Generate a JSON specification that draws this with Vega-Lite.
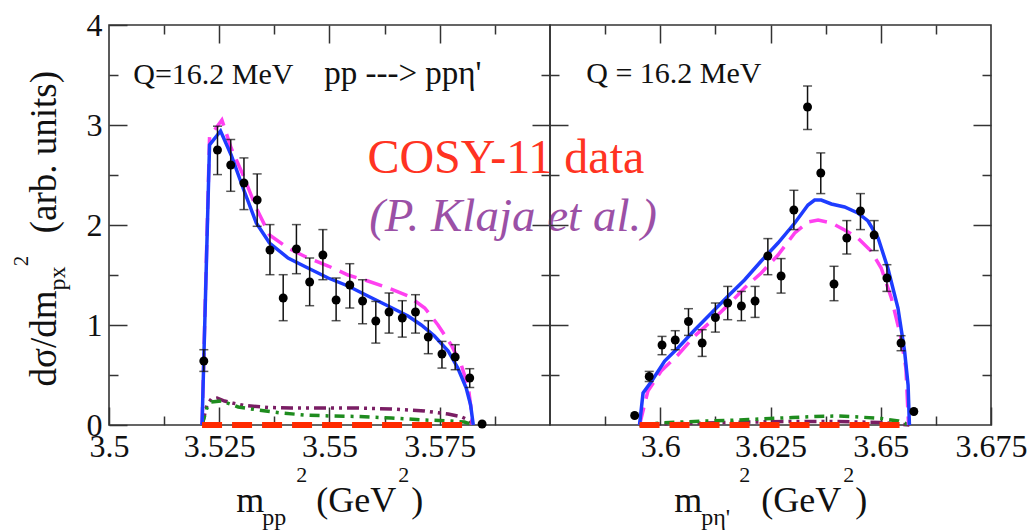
{
  "$schema": "https://vega.github.io/schema/vega-lite/v6.json",
  "background": "white",
  "padding": {"left": 10, "top": 8, "right": 0, "bottom": 0},
  "config": {
    "font": "Times New Roman, Liberation Serif, Tinos, DejaVu Serif, serif",
    "view": {"stroke": "#333", "strokeWidth": 1.6},
    "axis": {
      "domain": false,
      "grid": false,
      "tickColor": "#333",
      "tickWidth": 1.5,
      "labelFont": "Times New Roman, Liberation Serif, Tinos, DejaVu Serif, serif",
      "labelFontSize": 32,
      "labelColor": "#111",
      "labelFlush": false,
      "labelOverlap": false,
      "labelBound": false
    }
  },
  "datasets": {
    "ppPoints": [
      {"x": 3.5215, "y": 0.64, "lo": 0.536, "hi": 0.753},
      {"x": 3.5246, "y": 2.75, "lo": 2.504, "hi": 2.988},
      {"x": 3.5276, "y": 2.60, "lo": 2.337, "hi": 2.855},
      {"x": 3.5306, "y": 2.42, "lo": 2.154, "hi": 2.671},
      {"x": 3.5336, "y": 2.25, "lo": 1.987, "hi": 2.511},
      {"x": 3.5365, "y": 1.75, "lo": 1.503, "hi": 2.004},
      {"x": 3.5395, "y": 1.27, "lo": 1.043, "hi": 1.503},
      {"x": 3.5425, "y": 1.76, "lo": 1.513, "hi": 2.004},
      {"x": 3.5455, "y": 1.43, "lo": 1.193, "hi": 1.670},
      {"x": 3.5485, "y": 1.70, "lo": 1.453, "hi": 1.954},
      {"x": 3.5515, "y": 1.25, "lo": 1.043, "hi": 1.470},
      {"x": 3.5546, "y": 1.40, "lo": 1.170, "hi": 1.613},
      {"x": 3.5575, "y": 1.24, "lo": 1.013, "hi": 1.453},
      {"x": 3.5605, "y": 1.04, "lo": 0.819, "hi": 1.236},
      {"x": 3.5635, "y": 1.13, "lo": 0.919, "hi": 1.320},
      {"x": 3.5665, "y": 1.07, "lo": 0.879, "hi": 1.243},
      {"x": 3.5695, "y": 1.13, "lo": 0.919, "hi": 1.303},
      {"x": 3.5724, "y": 0.88, "lo": 0.713, "hi": 1.043},
      {"x": 3.5755, "y": 0.71, "lo": 0.569, "hi": 0.836},
      {"x": 3.5785, "y": 0.68, "lo": 0.553, "hi": 0.803},
      {"x": 3.5818, "y": 0.47, "lo": 0.375, "hi": 0.563},
      {"x": 3.5846, "y": 0.01}
    ],
    "pEtaPoints": [
      {"x": 3.5942, "y": 0.095},
      {"x": 3.5975, "y": 0.485, "lo": 0.435, "hi": 0.536},
      {"x": 3.6004, "y": 0.80, "lo": 0.703, "hi": 0.886},
      {"x": 3.6034, "y": 0.85, "lo": 0.753, "hi": 0.943},
      {"x": 3.6064, "y": 1.035, "lo": 0.896, "hi": 1.163},
      {"x": 3.6095, "y": 0.82, "lo": 0.686, "hi": 0.953},
      {"x": 3.6125, "y": 1.075, "lo": 0.929, "hi": 1.220},
      {"x": 3.6153, "y": 1.22, "lo": 1.053, "hi": 1.386},
      {"x": 3.6184, "y": 1.19, "lo": 1.043, "hi": 1.336},
      {"x": 3.6215, "y": 1.24, "lo": 1.076, "hi": 1.386},
      {"x": 3.6244, "y": 1.69, "lo": 1.503, "hi": 1.864},
      {"x": 3.6274, "y": 1.49, "lo": 1.319, "hi": 1.664},
      {"x": 3.6303, "y": 2.15, "lo": 1.954, "hi": 2.347},
      {"x": 3.6334, "y": 3.18, "lo": 2.955, "hi": 3.39},
      {"x": 3.6364, "y": 2.52, "lo": 2.314, "hi": 2.721},
      {"x": 3.6394, "y": 1.41, "lo": 1.243, "hi": 1.587},
      {"x": 3.6423, "y": 1.87, "lo": 1.710, "hi": 2.044},
      {"x": 3.6454, "y": 2.14, "lo": 1.954, "hi": 2.314},
      {"x": 3.6485, "y": 1.90, "lo": 1.744, "hi": 2.044},
      {"x": 3.6514, "y": 1.47, "lo": 1.336, "hi": 1.603},
      {"x": 3.6546, "y": 0.82, "lo": 0.743, "hi": 0.893},
      {"x": 3.6575, "y": 0.135}
    ],
    "ppCurves": [
      {"model": "solid", "x": 3.5211, "y": 0},
      {"model": "solid", "x": 3.5228, "y": 2.80},
      {"model": "solid", "x": 3.5253, "y": 2.94},
      {"model": "solid", "x": 3.5277, "y": 2.70},
      {"model": "solid", "x": 3.5304, "y": 2.37},
      {"model": "solid", "x": 3.5334, "y": 2.02},
      {"model": "solid", "x": 3.5364, "y": 1.82},
      {"model": "solid", "x": 3.5406, "y": 1.67},
      {"model": "solid", "x": 3.5451, "y": 1.57},
      {"model": "solid", "x": 3.5497, "y": 1.47},
      {"model": "solid", "x": 3.5542, "y": 1.39},
      {"model": "solid", "x": 3.5587, "y": 1.29},
      {"model": "solid", "x": 3.5633, "y": 1.19},
      {"model": "solid", "x": 3.5678, "y": 1.09},
      {"model": "solid", "x": 3.5708, "y": 1.00},
      {"model": "solid", "x": 3.5738, "y": 0.89},
      {"model": "solid", "x": 3.5769, "y": 0.74},
      {"model": "solid", "x": 3.5791, "y": 0.57},
      {"model": "solid", "x": 3.5810, "y": 0.37},
      {"model": "solid", "x": 3.5820, "y": 0.20},
      {"model": "solid", "x": 3.5826, "y": 0},
      {"model": "dashed", "x": 3.5211, "y": 0},
      {"model": "dashed", "x": 3.5228, "y": 2.88},
      {"model": "dashed", "x": 3.5256, "y": 3.05},
      {"model": "dashed", "x": 3.5277, "y": 2.77},
      {"model": "dashed", "x": 3.5304, "y": 2.50},
      {"model": "dashed", "x": 3.5334, "y": 2.17},
      {"model": "dashed", "x": 3.5364, "y": 1.90},
      {"model": "dashed", "x": 3.5406, "y": 1.77},
      {"model": "dashed", "x": 3.5451, "y": 1.67},
      {"model": "dashed", "x": 3.5497, "y": 1.59},
      {"model": "dashed", "x": 3.5542, "y": 1.50},
      {"model": "dashed", "x": 3.5587, "y": 1.44},
      {"model": "dashed", "x": 3.5633, "y": 1.37},
      {"model": "dashed", "x": 3.5678, "y": 1.29},
      {"model": "dashed", "x": 3.5716, "y": 1.17},
      {"model": "dashed", "x": 3.5746, "y": 1.00},
      {"model": "dashed", "x": 3.5776, "y": 0.80},
      {"model": "dashed", "x": 3.5799, "y": 0.60},
      {"model": "dashed", "x": 3.5815, "y": 0.37},
      {"model": "dashed", "x": 3.5822, "y": 0.13},
      {"model": "dashed", "x": 3.5824, "y": 0},
      {"model": "dashdotdot", "x": 3.5211, "y": 0},
      {"model": "dashdotdot", "x": 3.5222, "y": 0.20},
      {"model": "dashdotdot", "x": 3.5232, "y": 0.26},
      {"model": "dashdotdot", "x": 3.5245, "y": 0.27},
      {"model": "dashdotdot", "x": 3.5262, "y": 0.24},
      {"model": "dashdotdot", "x": 3.5280, "y": 0.22},
      {"model": "dashdotdot", "x": 3.5307, "y": 0.195},
      {"model": "dashdotdot", "x": 3.5361, "y": 0.175},
      {"model": "dashdotdot", "x": 3.5413, "y": 0.17},
      {"model": "dashdotdot", "x": 3.5489, "y": 0.17},
      {"model": "dashdotdot", "x": 3.5564, "y": 0.17},
      {"model": "dashdotdot", "x": 3.5640, "y": 0.16},
      {"model": "dashdotdot", "x": 3.5716, "y": 0.14},
      {"model": "dashdotdot", "x": 3.5769, "y": 0.11},
      {"model": "dashdotdot", "x": 3.5800, "y": 0.08},
      {"model": "dashdotdot", "x": 3.5815, "y": 0.05},
      {"model": "dashdotdot", "x": 3.5826, "y": 0},
      {"model": "dashdot", "x": 3.5211, "y": 0},
      {"model": "dashdot", "x": 3.5222, "y": 0.17},
      {"model": "dashdot", "x": 3.5232, "y": 0.23},
      {"model": "dashdot", "x": 3.5255, "y": 0.24},
      {"model": "dashdot", "x": 3.5275, "y": 0.21},
      {"model": "dashdot", "x": 3.5293, "y": 0.18},
      {"model": "dashdot", "x": 3.5338, "y": 0.15},
      {"model": "dashdot", "x": 3.5391, "y": 0.12},
      {"model": "dashdot", "x": 3.5444, "y": 0.10},
      {"model": "dashdot", "x": 3.5504, "y": 0.09},
      {"model": "dashdot", "x": 3.5565, "y": 0.085},
      {"model": "dashdot", "x": 3.5640, "y": 0.07},
      {"model": "dashdot", "x": 3.5716, "y": 0.05},
      {"model": "dashdot", "x": 3.5776, "y": 0.04},
      {"model": "dashdot", "x": 3.5806, "y": 0.03},
      {"model": "dashdot", "x": 3.5826, "y": 0},
      {"model": "baseline", "x": 3.5211, "y": 0},
      {"model": "baseline", "x": 3.5812, "y": 0}
    ],
    "pEtaCurves": [
      {"model": "solid", "x": 3.5953, "y": 0},
      {"model": "solid", "x": 3.5961, "y": 0.32},
      {"model": "solid", "x": 3.5980, "y": 0.435},
      {"model": "solid", "x": 3.6010, "y": 0.64},
      {"model": "solid", "x": 3.6040, "y": 0.77},
      {"model": "solid", "x": 3.6078, "y": 0.95},
      {"model": "solid", "x": 3.6116, "y": 1.12},
      {"model": "solid", "x": 3.6154, "y": 1.29},
      {"model": "solid", "x": 3.6191, "y": 1.45},
      {"model": "solid", "x": 3.6229, "y": 1.64},
      {"model": "solid", "x": 3.6267, "y": 1.82},
      {"model": "solid", "x": 3.6305, "y": 2.02},
      {"model": "solid", "x": 3.6335, "y": 2.20},
      {"model": "solid", "x": 3.6350, "y": 2.25},
      {"model": "solid", "x": 3.6365, "y": 2.25},
      {"model": "solid", "x": 3.6388, "y": 2.21},
      {"model": "solid", "x": 3.6418, "y": 2.18},
      {"model": "solid", "x": 3.6448, "y": 2.12},
      {"model": "solid", "x": 3.6471, "y": 2.04},
      {"model": "solid", "x": 3.6494, "y": 1.87},
      {"model": "solid", "x": 3.6516, "y": 1.57},
      {"model": "solid", "x": 3.6539, "y": 1.17},
      {"model": "solid", "x": 3.6554, "y": 0.74},
      {"model": "solid", "x": 3.6562, "y": 0.40},
      {"model": "solid", "x": 3.6565, "y": 0},
      {"model": "dashed", "x": 3.5953, "y": 0},
      {"model": "dashed", "x": 3.5972, "y": 0.34},
      {"model": "dashed", "x": 3.6002, "y": 0.54},
      {"model": "dashed", "x": 3.6040, "y": 0.70},
      {"model": "dashed", "x": 3.6078, "y": 0.89},
      {"model": "dashed", "x": 3.6116, "y": 1.04},
      {"model": "dashed", "x": 3.6154, "y": 1.20},
      {"model": "dashed", "x": 3.6191, "y": 1.37},
      {"model": "dashed", "x": 3.6229, "y": 1.52},
      {"model": "dashed", "x": 3.6267, "y": 1.70},
      {"model": "dashed", "x": 3.6305, "y": 1.92},
      {"model": "dashed", "x": 3.6335, "y": 2.03},
      {"model": "dashed", "x": 3.6358, "y": 2.05},
      {"model": "dashed", "x": 3.6388, "y": 2.02},
      {"model": "dashed", "x": 3.6418, "y": 1.95},
      {"model": "dashed", "x": 3.6448, "y": 1.87},
      {"model": "dashed", "x": 3.6478, "y": 1.74},
      {"model": "dashed", "x": 3.6501, "y": 1.57},
      {"model": "dashed", "x": 3.6524, "y": 1.27},
      {"model": "dashed", "x": 3.6546, "y": 0.87},
      {"model": "dashed", "x": 3.6557, "y": 0.57},
      {"model": "dashed", "x": 3.6563, "y": 0},
      {"model": "dashdot", "x": 3.5953, "y": 0},
      {"model": "dashdot", "x": 3.6000, "y": 0.02},
      {"model": "dashdot", "x": 3.6050, "y": 0.03},
      {"model": "dashdot", "x": 3.6100, "y": 0.04},
      {"model": "dashdot", "x": 3.6150, "y": 0.045},
      {"model": "dashdot", "x": 3.6200, "y": 0.055},
      {"model": "dashdot", "x": 3.6250, "y": 0.065},
      {"model": "dashdot", "x": 3.6300, "y": 0.075},
      {"model": "dashdot", "x": 3.6350, "y": 0.085},
      {"model": "dashdot", "x": 3.6400, "y": 0.09},
      {"model": "dashdot", "x": 3.6450, "y": 0.08},
      {"model": "dashdot", "x": 3.6500, "y": 0.065},
      {"model": "dashdot", "x": 3.6540, "y": 0.04},
      {"model": "dashdot", "x": 3.6565, "y": 0},
      {"model": "dashdotdot", "x": 3.5953, "y": 0},
      {"model": "dashdotdot", "x": 3.6000, "y": 0.01},
      {"model": "dashdotdot", "x": 3.6100, "y": 0.02},
      {"model": "dashdotdot", "x": 3.6200, "y": 0.03},
      {"model": "dashdotdot", "x": 3.6300, "y": 0.035},
      {"model": "dashdotdot", "x": 3.6400, "y": 0.035},
      {"model": "dashdotdot", "x": 3.6500, "y": 0.025},
      {"model": "dashdotdot", "x": 3.6565, "y": 0},
      {"model": "baseline", "x": 3.5953, "y": 0},
      {"model": "baseline", "x": 3.6550, "y": 0}
    ]
  },
  "spacing": 0,
  "bounds": "flush",
  "hconcat": [
    {
      "width": 441,
      "height": 400,
      "resolve": {"axis": {"x": "independent", "y": "independent"}},
      "layer": [
        {
          "data": {"name": "ppCurves"},
          "transform": [{"filter": "datum.model == 'dashdotdot'"}],
          "mark": {"type": "line", "color": "#7a1e64", "strokeWidth": 3.5, "strokeDash": [12, 5, 3, 5, 3, 5]},
          "encoding": {
            "x": {"field": "x", "type": "quantitative", "scale": {"domain": [3.5, 3.6], "nice": false, "zero": false}, "axis": null},
            "y": {"field": "y", "type": "quantitative", "scale": {"domain": [0, 4], "nice": false, "zero": false}, "axis": null}
          }
        },
        {
          "data": {"name": "ppCurves"},
          "transform": [{"filter": "datum.model == 'dashdot'"}],
          "mark": {"type": "line", "color": "#1e8c1e", "strokeWidth": 3.5, "strokeDash": [10, 6, 3, 6]},
          "encoding": {
            "x": {"field": "x", "type": "quantitative", "scale": {"domain": [3.5, 3.6], "nice": false, "zero": false}, "axis": null},
            "y": {"field": "y", "type": "quantitative", "scale": {"domain": [0, 4], "nice": false, "zero": false}, "axis": null}
          }
        },
        {
          "data": {"name": "ppCurves"},
          "transform": [{"filter": "datum.model == 'dashed'"}],
          "mark": {"type": "line", "color": "#ff40f0", "strokeWidth": 3.5, "strokeDash": [18, 9]},
          "encoding": {
            "x": {"field": "x", "type": "quantitative", "scale": {"domain": [3.5, 3.6], "nice": false, "zero": false}, "axis": null},
            "y": {"field": "y", "type": "quantitative", "scale": {"domain": [0, 4], "nice": false, "zero": false}, "axis": null}
          }
        },
        {
          "data": {"name": "ppCurves"},
          "transform": [{"filter": "datum.model == 'solid'"}],
          "mark": {"type": "line", "color": "#1e3cff", "strokeWidth": 3.5},
          "encoding": {
            "x": {"field": "x", "type": "quantitative", "scale": {"domain": [3.5, 3.6], "nice": false, "zero": false}, "axis": null},
            "y": {"field": "y", "type": "quantitative", "scale": {"domain": [0, 4], "nice": false, "zero": false}, "axis": null}
          }
        },
        {
          "data": {"name": "ppCurves"},
          "transform": [{"filter": "datum.model == 'baseline'"}],
          "mark": {"type": "line", "color": "#ff2a00", "strokeWidth": 6, "strokeDash": [20, 10]},
          "encoding": {
            "x": {"field": "x", "type": "quantitative", "scale": {"domain": [3.5, 3.6], "nice": false, "zero": false}, "axis": null},
            "y": {"field": "y", "type": "quantitative", "scale": {"domain": [0, 4], "nice": false, "zero": false}, "axis": null}
          }
        },
        {
          "data": {"name": "ppPoints"},
          "mark": {"type": "rule", "color": "#111", "strokeWidth": 1.5},
          "encoding": {
            "x": {
              "field": "x", "type": "quantitative",
              "scale": {"domain": [3.5, 3.6], "nice": false, "zero": false},
              "axis": {
                "orient": "bottom", "title": null, "format": ".4~g",
                "values": [3.5, 3.5125, 3.525, 3.5375, 3.55, 3.5625, 3.575, 3.5875],
                "labelExpr": "round(datum.value*80) % 2 == 0 ? datum.label : ''",
                "tickSize": {"condition": {"test": "round(datum.value*80) % 2 == 0", "value": -18}, "value": -9},
                "labelPadding": 24
              }
            },
            "y": {
              "field": "lo", "type": "quantitative",
              "scale": {"domain": [0, 4], "nice": false, "zero": false},
              "axis": {
                "orient": "left", "title": null, "format": ".2~g",
                "values": [0, 0.5, 1, 1.5, 2, 2.5, 3, 3.5, 4],
                "labelExpr": "datum.value % 1 == 0 ? datum.label : ''",
                "tickSize": {"condition": {"test": "datum.value % 1 == 0", "value": -18}, "value": -9},
                "labelPadding": 25
              }
            },
            "y2": {"field": "hi"}
          }
        },
        {
          "data": {"name": "ppPoints"},
          "mark": {"type": "tick", "orient": "horizontal", "color": "#111", "size": 9, "thickness": 1.5},
          "encoding": {
            "x": {"field": "x", "type": "quantitative", "scale": {"domain": [3.5, 3.6], "nice": false, "zero": false}, "axis": null},
            "y": {"field": "lo", "type": "quantitative", "scale": {"domain": [0, 4], "nice": false, "zero": false}, "axis": null}
          }
        },
        {
          "data": {"name": "ppPoints"},
          "mark": {"type": "tick", "orient": "horizontal", "color": "#111", "size": 9, "thickness": 1.5},
          "encoding": {
            "x": {"field": "x", "type": "quantitative", "scale": {"domain": [3.5, 3.6], "nice": false, "zero": false}, "axis": null},
            "y": {"field": "hi", "type": "quantitative", "scale": {"domain": [0, 4], "nice": false, "zero": false}, "axis": null}
          }
        },
        {
          "data": {"name": "ppPoints"},
          "mark": {"type": "circle", "color": "#000", "opacity": 1, "size": 80},
          "encoding": {
            "x": {
              "field": "x", "type": "quantitative",
              "scale": {"domain": [3.5, 3.6], "nice": false, "zero": false},
              "axis": {
                "orient": "top", "title": null, "labels": false,
                "values": [3.5125, 3.525, 3.5375, 3.55, 3.5625, 3.575, 3.5875],
                "tickSize": {"condition": {"test": "round(datum.value*80) % 2 == 0", "value": -18}, "value": -9}
              }
            },
            "y": {
              "field": "y", "type": "quantitative",
              "scale": {"domain": [0, 4], "nice": false, "zero": false},
              "axis": {
                "orient": "right", "title": null, "labels": false,
                "values": [0.5, 1, 1.5, 2, 2.5, 3, 3.5],
                "tickSize": {"condition": {"test": "datum.value % 1 == 0", "value": -18}, "value": -9}
              }
            }
          }
        },
        {
          "data": {"values": [
            {"label": "Q=16.2 MeV", "x": 3.5055, "y": 3.408}
          ]},
          "mark": {"type": "text", "font": "Times New Roman, Liberation Serif, Tinos, DejaVu Serif, serif", "color": "#111", "align": "left", "baseline": "alphabetic", "fontSize": 30},
          "encoding": {
            "x": {"field": "x", "type": "quantitative", "scale": {"domain": [3.5, 3.6], "nice": false, "zero": false}, "axis": null},
            "y": {"field": "y", "type": "quantitative", "scale": {"domain": [0, 4], "nice": false, "zero": false}, "axis": null},
            "text": {"field": "label"}
          }
        },
        {
          "data": {"values": [
            {"label": "pp ---> ppη'", "x": 3.5488, "y": 3.408}
          ]},
          "mark": {"type": "text", "font": "Times New Roman, Liberation Serif, Tinos, DejaVu Serif, serif", "color": "#111", "align": "left", "baseline": "alphabetic", "fontSize": 33},
          "encoding": {
            "x": {"field": "x", "type": "quantitative", "scale": {"domain": [3.5, 3.6], "nice": false, "zero": false}, "axis": null},
            "y": {"field": "y", "type": "quantitative", "scale": {"domain": [0, 4], "nice": false, "zero": false}, "axis": null},
            "text": {"field": "label"}
          }
        },
        {
          "data": {"values": [
            {"label": "COSY-11 data", "x": 3.5586, "y": 2.52}
          ]},
          "mark": {"type": "text", "font": "Times New Roman, Liberation Serif, Tinos, DejaVu Serif, serif", "align": "left", "baseline": "alphabetic", "fontSize": 48, "color": "#ff3322"},
          "encoding": {
            "x": {"field": "x", "type": "quantitative", "scale": {"domain": [3.5, 3.6], "nice": false, "zero": false}, "axis": null},
            "y": {"field": "y", "type": "quantitative", "scale": {"domain": [0, 4], "nice": false, "zero": false}, "axis": null},
            "text": {"field": "label"}
          }
        },
        {
          "data": {"values": [
            {"label": "(P. Klaja et al.)", "x": 3.5590, "y": 1.937}
          ]},
          "mark": {"type": "text", "font": "Times New Roman, Liberation Serif, Tinos, DejaVu Serif, serif", "align": "left", "baseline": "alphabetic", "fontSize": 47, "fontStyle": "italic", "color": "#9b50a6"},
          "encoding": {
            "x": {"field": "x", "type": "quantitative", "scale": {"domain": [3.5, 3.6], "nice": false, "zero": false}, "axis": null},
            "y": {"field": "y", "type": "quantitative", "scale": {"domain": [0, 4], "nice": false, "zero": false}, "axis": null},
            "text": {"field": "label"}
          }
        },
        {
          "data": {"values": [
            {"label": "dσ/dm", "x": 3.48805, "y": 0.385},
            {"label": "(arb. units)", "x": 3.48805, "y": 1.917}
          ]},
          "mark": {"type": "text", "font": "Times New Roman, Liberation Serif, Tinos, DejaVu Serif, serif", "color": "#111", "align": "left", "baseline": "alphabetic", "fontSize": 37, "angle": 270},
          "encoding": {
            "x": {"field": "x", "type": "quantitative", "scale": {"domain": [3.5, 3.6], "nice": false, "zero": false}, "axis": null},
            "y": {"field": "y", "type": "quantitative", "scale": {"domain": [0, 4], "nice": false, "zero": false}, "axis": null},
            "text": {"field": "label"}
          }
        },
        {
          "data": {"values": [
            {"label": "px", "x": 3.49009, "y": 1.346}
          ]},
          "mark": {"type": "text", "font": "Times New Roman, Liberation Serif, Tinos, DejaVu Serif, serif", "color": "#111", "align": "left", "baseline": "alphabetic", "fontSize": 24, "angle": 270},
          "encoding": {
            "x": {"field": "x", "type": "quantitative", "scale": {"domain": [3.5, 3.6], "nice": false, "zero": false}, "axis": null},
            "y": {"field": "y", "type": "quantitative", "scale": {"domain": [0, 4], "nice": false, "zero": false}, "axis": null},
            "text": {"field": "label"}
          }
        },
        {
          "data": {"values": [
            {"label": "2", "x": 3.4817, "y": 1.587}
          ]},
          "mark": {"type": "text", "font": "Times New Roman, Liberation Serif, Tinos, DejaVu Serif, serif", "color": "#111", "align": "left", "baseline": "alphabetic", "fontSize": 21, "angle": 270},
          "encoding": {
            "x": {"field": "x", "type": "quantitative", "scale": {"domain": [3.5, 3.6], "nice": false, "zero": false}, "axis": null},
            "y": {"field": "y", "type": "quantitative", "scale": {"domain": [0, 4], "nice": false, "zero": false}, "axis": null},
            "text": {"field": "label"}
          }
        },
        {
          "data": {"values": [
            {"label": "m", "x": 3.52887, "y": -0.866},
            {"label": "(GeV", "x": 3.54701, "y": -0.866},
            {"label": ")", "x": 3.56855, "y": -0.866}
          ]},
          "mark": {"type": "text", "font": "Times New Roman, Liberation Serif, Tinos, DejaVu Serif, serif", "color": "#111", "align": "left", "baseline": "alphabetic", "fontSize": 36},
          "encoding": {
            "x": {"field": "x", "type": "quantitative", "scale": {"domain": [3.5, 3.6], "nice": false, "zero": false}, "axis": null},
            "y": {"field": "y", "type": "quantitative", "scale": {"domain": [0, 4], "nice": false, "zero": false}, "axis": null},
            "text": {"field": "label"}
          }
        },
        {
          "data": {"values": [
            {"label": "pp", "x": 3.53476, "y": -0.996}
          ]},
          "mark": {"type": "text", "font": "Times New Roman, Liberation Serif, Tinos, DejaVu Serif, serif", "color": "#111", "align": "left", "baseline": "alphabetic", "fontSize": 24},
          "encoding": {
            "x": {"field": "x", "type": "quantitative", "scale": {"domain": [3.5, 3.6], "nice": false, "zero": false}, "axis": null},
            "y": {"field": "y", "type": "quantitative", "scale": {"domain": [0, 4], "nice": false, "zero": false}, "axis": null},
            "text": {"field": "label"}
          }
        },
        {
          "data": {"values": [
            {"label": "2", "x": 3.54247, "y": -0.566},
            {"label": "2", "x": 3.5656, "y": -0.566}
          ]},
          "mark": {"type": "text", "font": "Times New Roman, Liberation Serif, Tinos, DejaVu Serif, serif", "color": "#111", "align": "left", "baseline": "alphabetic", "fontSize": 22},
          "encoding": {
            "x": {"field": "x", "type": "quantitative", "scale": {"domain": [3.5, 3.6], "nice": false, "zero": false}, "axis": null},
            "y": {"field": "y", "type": "quantitative", "scale": {"domain": [0, 4], "nice": false, "zero": false}, "axis": null},
            "text": {"field": "label"}
          }
        }
      ]
    },
    {
      "width": 441,
      "height": 400,
      "resolve": {"axis": {"x": "independent", "y": "independent"}},
      "layer": [
        {
          "data": {"name": "pEtaCurves"},
          "transform": [{"filter": "datum.model == 'dashdotdot'"}],
          "mark": {"type": "line", "color": "#7a1e64", "strokeWidth": 3.5, "strokeDash": [12, 5, 3, 5, 3, 5]},
          "encoding": {
            "x": {"field": "x", "type": "quantitative", "scale": {"domain": [3.575, 3.675], "nice": false, "zero": false}, "axis": null},
            "y": {"field": "y", "type": "quantitative", "scale": {"domain": [0, 4], "nice": false, "zero": false}, "axis": null}
          }
        },
        {
          "data": {"name": "pEtaCurves"},
          "transform": [{"filter": "datum.model == 'dashdot'"}],
          "mark": {"type": "line", "color": "#1e8c1e", "strokeWidth": 3.5, "strokeDash": [10, 6, 3, 6]},
          "encoding": {
            "x": {"field": "x", "type": "quantitative", "scale": {"domain": [3.575, 3.675], "nice": false, "zero": false}, "axis": null},
            "y": {"field": "y", "type": "quantitative", "scale": {"domain": [0, 4], "nice": false, "zero": false}, "axis": null}
          }
        },
        {
          "data": {"name": "pEtaCurves"},
          "transform": [{"filter": "datum.model == 'dashed'"}],
          "mark": {"type": "line", "color": "#ff40f0", "strokeWidth": 3.5, "strokeDash": [18, 9]},
          "encoding": {
            "x": {"field": "x", "type": "quantitative", "scale": {"domain": [3.575, 3.675], "nice": false, "zero": false}, "axis": null},
            "y": {"field": "y", "type": "quantitative", "scale": {"domain": [0, 4], "nice": false, "zero": false}, "axis": null}
          }
        },
        {
          "data": {"name": "pEtaCurves"},
          "transform": [{"filter": "datum.model == 'solid'"}],
          "mark": {"type": "line", "color": "#1e3cff", "strokeWidth": 3.5},
          "encoding": {
            "x": {"field": "x", "type": "quantitative", "scale": {"domain": [3.575, 3.675], "nice": false, "zero": false}, "axis": null},
            "y": {"field": "y", "type": "quantitative", "scale": {"domain": [0, 4], "nice": false, "zero": false}, "axis": null}
          }
        },
        {
          "data": {"name": "pEtaCurves"},
          "transform": [{"filter": "datum.model == 'baseline'"}],
          "mark": {"type": "line", "color": "#ff2a00", "strokeWidth": 6, "strokeDash": [20, 10]},
          "encoding": {
            "x": {"field": "x", "type": "quantitative", "scale": {"domain": [3.575, 3.675], "nice": false, "zero": false}, "axis": null},
            "y": {"field": "y", "type": "quantitative", "scale": {"domain": [0, 4], "nice": false, "zero": false}, "axis": null}
          }
        },
        {
          "data": {"name": "pEtaPoints"},
          "mark": {"type": "rule", "color": "#111", "strokeWidth": 1.5},
          "encoding": {
            "x": {
              "field": "x", "type": "quantitative",
              "scale": {"domain": [3.575, 3.675], "nice": false, "zero": false},
              "axis": {
                "orient": "bottom", "title": null, "format": ".4~g",
                "values": [3.5875, 3.6, 3.6125, 3.625, 3.6375, 3.65, 3.6625, 3.675],
                "labelExpr": "round(datum.value*80) % 2 == 0 ? datum.label : ''",
                "tickSize": {"condition": {"test": "round(datum.value*80) % 2 == 0", "value": -18}, "value": -9},
                "labelPadding": 24
              }
            },
            "y": {
              "field": "lo", "type": "quantitative",
              "scale": {"domain": [0, 4], "nice": false, "zero": false},
              "axis": {
                "orient": "left", "title": null, "labels": false,
                "values": [0.5, 1, 1.5, 2, 2.5, 3, 3.5],
                "tickSize": {"condition": {"test": "datum.value % 1 == 0", "value": -18}, "value": -9}
              }
            },
            "y2": {"field": "hi"}
          }
        },
        {
          "data": {"name": "pEtaPoints"},
          "mark": {"type": "tick", "orient": "horizontal", "color": "#111", "size": 9, "thickness": 1.5},
          "encoding": {
            "x": {"field": "x", "type": "quantitative", "scale": {"domain": [3.575, 3.675], "nice": false, "zero": false}, "axis": null},
            "y": {"field": "lo", "type": "quantitative", "scale": {"domain": [0, 4], "nice": false, "zero": false}, "axis": null}
          }
        },
        {
          "data": {"name": "pEtaPoints"},
          "mark": {"type": "tick", "orient": "horizontal", "color": "#111", "size": 9, "thickness": 1.5},
          "encoding": {
            "x": {"field": "x", "type": "quantitative", "scale": {"domain": [3.575, 3.675], "nice": false, "zero": false}, "axis": null},
            "y": {"field": "hi", "type": "quantitative", "scale": {"domain": [0, 4], "nice": false, "zero": false}, "axis": null}
          }
        },
        {
          "data": {"name": "pEtaPoints"},
          "mark": {"type": "circle", "color": "#000", "opacity": 1, "size": 80},
          "encoding": {
            "x": {
              "field": "x", "type": "quantitative",
              "scale": {"domain": [3.575, 3.675], "nice": false, "zero": false},
              "axis": {
                "orient": "top", "title": null, "labels": false,
                "values": [3.5875, 3.6, 3.6125, 3.625, 3.6375, 3.65, 3.6625],
                "tickSize": {"condition": {"test": "round(datum.value*80) % 2 == 0", "value": -18}, "value": -9}
              }
            },
            "y": {
              "field": "y", "type": "quantitative",
              "scale": {"domain": [0, 4], "nice": false, "zero": false},
              "axis": {
                "orient": "right", "title": null, "labels": false,
                "values": [0.5, 1, 1.5, 2, 2.5, 3, 3.5],
                "tickSize": {"condition": {"test": "datum.value % 1 == 0", "value": -18}, "value": -9}
              }
            }
          }
        },
        {
          "data": {"values": [
            {"label": "Q = 16.2 MeV", "x": 3.58322, "y": 3.421}
          ]},
          "mark": {"type": "text", "font": "Times New Roman, Liberation Serif, Tinos, DejaVu Serif, serif", "color": "#111", "align": "left", "baseline": "alphabetic", "fontSize": 30},
          "encoding": {
            "x": {"field": "x", "type": "quantitative", "scale": {"domain": [3.575, 3.675], "nice": false, "zero": false}, "axis": null},
            "y": {"field": "y", "type": "quantitative", "scale": {"domain": [0, 4], "nice": false, "zero": false}, "axis": null},
            "text": {"field": "label"}
          }
        },
        {
          "data": {"values": [
            {"label": "m", "x": 3.60317, "y": -0.866},
            {"label": "(GeV", "x": 3.6229, "y": -0.866},
            {"label": ")", "x": 3.64422, "y": -0.866}
          ]},
          "mark": {"type": "text", "font": "Times New Roman, Liberation Serif, Tinos, DejaVu Serif, serif", "color": "#111", "align": "left", "baseline": "alphabetic", "fontSize": 36},
          "encoding": {
            "x": {"field": "x", "type": "quantitative", "scale": {"domain": [3.575, 3.675], "nice": false, "zero": false}, "axis": null},
            "y": {"field": "y", "type": "quantitative", "scale": {"domain": [0, 4], "nice": false, "zero": false}, "axis": null},
            "text": {"field": "label"}
          }
        },
        {
          "data": {"values": [
            {"label": "pη'", "x": 3.6093, "y": -0.996}
          ]},
          "mark": {"type": "text", "font": "Times New Roman, Liberation Serif, Tinos, DejaVu Serif, serif", "color": "#111", "align": "left", "baseline": "alphabetic", "fontSize": 24},
          "encoding": {
            "x": {"field": "x", "type": "quantitative", "scale": {"domain": [3.575, 3.675], "nice": false, "zero": false}, "axis": null},
            "y": {"field": "y", "type": "quantitative", "scale": {"domain": [0, 4], "nice": false, "zero": false}, "axis": null},
            "text": {"field": "label"}
          }
        },
        {
          "data": {"values": [
            {"label": "2", "x": 3.61791, "y": -0.566},
            {"label": "2", "x": 3.6415, "y": -0.566}
          ]},
          "mark": {"type": "text", "font": "Times New Roman, Liberation Serif, Tinos, DejaVu Serif, serif", "color": "#111", "align": "left", "baseline": "alphabetic", "fontSize": 22},
          "encoding": {
            "x": {"field": "x", "type": "quantitative", "scale": {"domain": [3.575, 3.675], "nice": false, "zero": false}, "axis": null},
            "y": {"field": "y", "type": "quantitative", "scale": {"domain": [0, 4], "nice": false, "zero": false}, "axis": null},
            "text": {"field": "label"}
          }
        }
      ]
    }
  ]
}
